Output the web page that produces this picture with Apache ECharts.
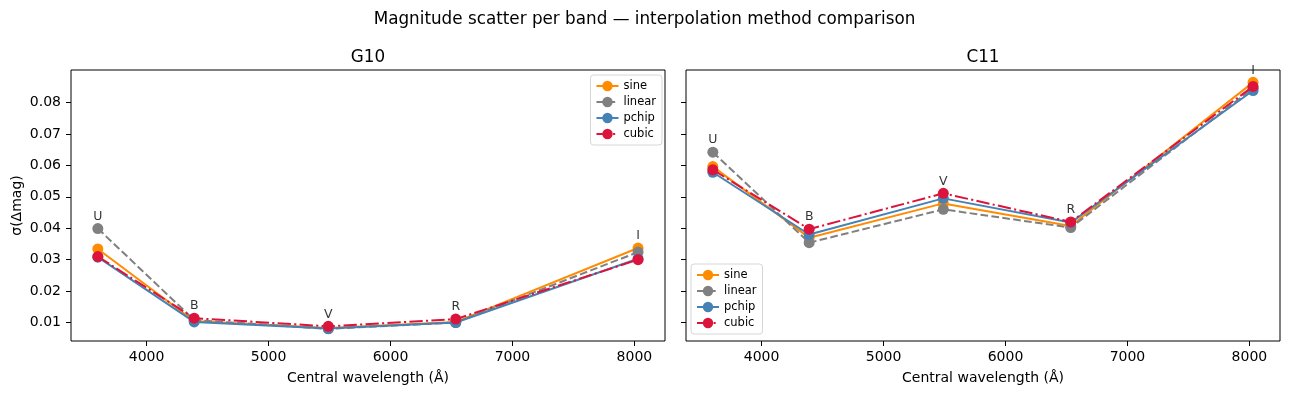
<!DOCTYPE html>
<html>
<head>
<meta charset="utf-8">
<title>Magnitude scatter per band</title>
<script src="https://cdn.jsdelivr.net/npm/echarts@6/dist/echarts.min.js"></script>
<style>
  html, body { margin: 0; padding: 0; background: #fff; }
  #main { width: 1289px; height: 397px; }
</style>
</head>
<body>
<div id="main"></div>
<script>
// bands and their central wavelengths (Å)
const bands = ["U", "B", "V", "R", "I"];
const wavelengths = [3600, 4390, 5490, 6535, 8030];
const methods = ["sine", "linear", "pchip", "cubic"];

// G10
const g10Sine = [0.0334, 0.0105, 0.0083, 0.0102, 0.0337];
const g10Linear = [0.0399, 0.0108, 0.0080, 0.0100, 0.0324];
const g10Pchip = [0.0308, 0.0102, 0.0081, 0.0100, 0.0303];
const g10Cubic = [0.0310, 0.0114, 0.0088, 0.0111, 0.0300];

// C11
const c11Sine = [0.0596, 0.0370, 0.0479, 0.0407, 0.0864];
const c11Linear = [0.0642, 0.0354, 0.0460, 0.0402, 0.0845];
const c11Pchip = [0.0578, 0.0380, 0.0495, 0.0418, 0.0838];
const c11Cubic = [0.0586, 0.0397, 0.0511, 0.0420, 0.0851];

const xTicks = [4000, 5000, 6000, 7000, 8000];
const yTicks = [0.01, 0.02, 0.03, 0.04, 0.05, 0.06, 0.07, 0.08];

const panelTitles = ["G10", "C11"];
const panelData = [
  [g10Sine, g10Linear, g10Pchip, g10Cubic],
  [c11Sine, c11Linear, c11Pchip, c11Cubic],
];

// styles
const FONT = "DejaVu Sans";
const colors = { sine: "#ff8c00", linear: "#808080", pchip: "#4682b4", cubic: "#dc143c" };
const dashes = { sine: "solid", linear: [7.7, 3.3], pchip: "solid", cubic: [13.3, 3.3, 2.1, 3.3] };

const gridLefts = [71, 686];
const gridWidth = 594;
const gridTop = 70;
const gridHeight = 271;

function makeXAxis(i) {
  return {
    type: "value",
    gridIndex: i,
    min: 3380,
    max: 8251,
    axisLine: { show: false, onZero: false },
    axisTick: { show: true, length: 5, customValues: xTicks, lineStyle: { color: "#000", width: 1 } },
    axisLabel: {
      customValues: xTicks,
      margin: 9,
      color: "#000",
      fontSize: 14,
      fontFamily: FONT,
      formatter: (v) => String(v),
    },
    splitLine: { show: false },
    name: "Central wavelength (Å)",
    nameLocation: "middle",
    nameGap: 30,
    nameTextStyle: { color: "#000", fontSize: 14, fontFamily: FONT },
  };
}

function makeYAxis(i) {
  return {
    type: "value",
    gridIndex: i,
    min: 0.00413,
    max: 0.09033,
    axisLine: { show: false, onZero: false },
    axisTick: { show: true, length: 5, customValues: yTicks, lineStyle: { color: "#000", width: 1 } },
    axisLabel: {
      show: i === 0,
      customValues: yTicks,
      margin: 10,
      color: "#000",
      fontSize: 14,
      fontFamily: FONT,
      formatter: (v) => v.toFixed(2),
    },
    splitLine: { show: false },
    name: i === 0 ? "σ(Δmag)" : "",
    nameLocation: "middle",
    nameRotate: 90,
    nameGap: 47,
    nameTextStyle: { color: "#000", fontSize: 14, fontFamily: FONT },
  };
}

const series = [];
panelData.forEach((set, p) => {
  set.forEach((vals, m) => {
    const name = methods[m];
    series.push({
      name: name,
      type: "line",
      xAxisIndex: p,
      yAxisIndex: p,
      data: wavelengths.map((w, k) => [w, vals[k]]),
      symbol: "circle",
      symbolSize: 11,
      showSymbol: true,
      clip: false,
      lineStyle: { color: colors[name], width: 2, type: dashes[name] },
      itemStyle: { color: colors[name] },
      z: 2 + m,
      animation: false,
    });
  });
  // band names over the highest marker of each band
  const tops = wavelengths.map((w, k) => [w, Math.max(...set.map((v) => v[k])), bands[k]]);
  series.push({
    name: "bandLabels" + p,
    type: "scatter",
    xAxisIndex: p,
    yAxisIndex: p,
    data: tops,
    symbolSize: 1,
    itemStyle: { color: "rgba(0,0,0,0)" },
    silent: true,
    z: 10,
    label: {
      show: true,
      position: "top",
      distance: 5,
      formatter: (d) => d.data[2],
      color: "#000",
      fontSize: 12.5,
      fontFamily: FONT,
    },
  });
});

const legendBase = {
  orient: "vertical",
  data: methods,
  itemWidth: 22,
  itemHeight: 13,
  itemGap: 4,
  padding: [5, 6, 5, 5],
  backgroundColor: "rgba(255,255,255,0.8)",
  borderColor: "#d6d6d6",
  borderWidth: 1,
  borderRadius: 3,
  textStyle: { color: "#000", fontSize: 11.5, fontFamily: FONT },
  selectedMode: false,
};

const chart = echarts.init(document.getElementById("main"));
chart.setOption({
  animation: false,
  backgroundColor: "#fff",
  title: {
    text: "Magnitude scatter per band — interpolation method comparison",
    left: "center",
    top: 6,
    textStyle: { color: "#000", fontSize: 16.8, fontWeight: "normal", fontFamily: FONT },
  },
  graphic: panelTitles.map((t, i) => ({
    type: "text",
    x: gridLefts[i] + gridWidth / 2,
    y: 57.5,
    style: {
      text: t,
      fill: "#000",
      font: "16.8px '" + FONT + "'",
      textAlign: "center",
      textVerticalAlign: "middle",
    },
  })),
  legend: [
    Object.assign({}, legendBase, { right: 1289 - 662, top: 75 }),
    Object.assign({}, legendBase, { left: 691, top: 264 }),
  ],
  grid: gridLefts.map((l) => ({
    left: l,
    top: gridTop,
    width: gridWidth,
    height: gridHeight,
    show: true,
    borderColor: "#000",
    borderWidth: 1,
    backgroundColor: "rgba(0,0,0,0)",
  })),
  xAxis: [makeXAxis(0), makeXAxis(1)],
  yAxis: [makeYAxis(0), makeYAxis(1)],
  series: series,
});
</script>
</body>
</html>
